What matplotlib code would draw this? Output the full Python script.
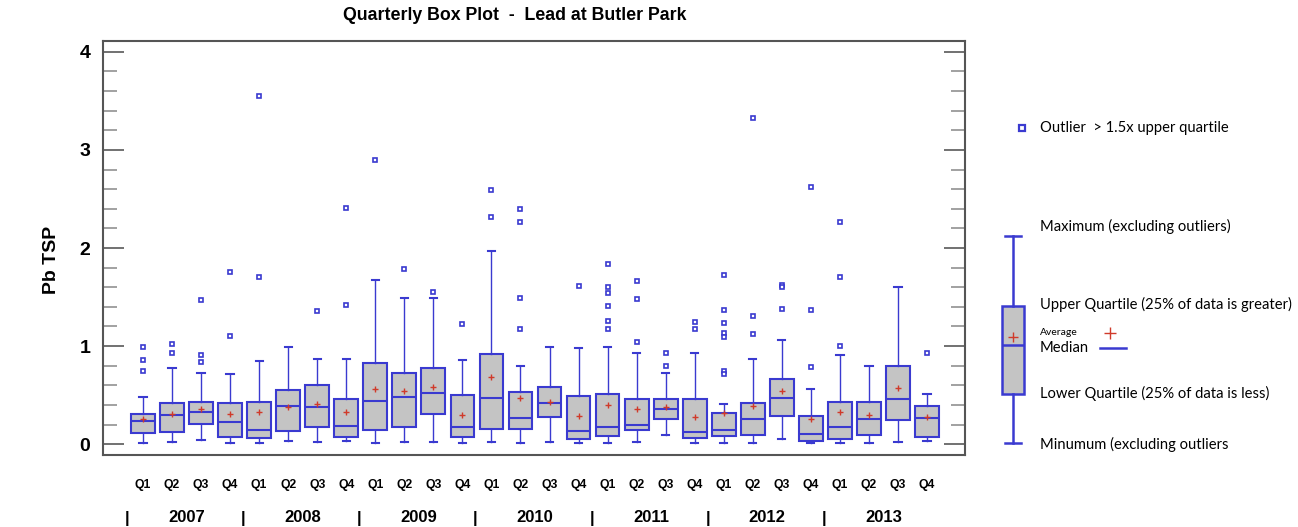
import numpy as np
import matplotlib.pyplot as plt
from matplotlib.transforms import blended_transform_factory

years = ['2007', '2008', '2009', '2010', '2011', '2012', '2013']
quarters = ['Q1', 'Q2', 'Q3', 'Q4']

# one value per quarter, 2007 Q1 ... 2013 Q4
whis_lo = [0.01, 0.02, 0.04, 0.01, 0.01, 0.03, 0.02, 0.03, 0.01, 0.02, 0.02, 0.01, 0.02, 0.01,
           0.02, 0.01, 0.01, 0.02, 0.09, 0.01, 0.01, 0.01, 0.05, 0.01, 0.01, 0.01, 0.02, 0.03]
q1 = [0.11, 0.12, 0.21, 0.07, 0.06, 0.13, 0.18, 0.07, 0.14, 0.18, 0.31, 0.07, 0.15, 0.15,
      0.28, 0.05, 0.08, 0.14, 0.26, 0.06, 0.08, 0.09, 0.29, 0.03, 0.05, 0.09, 0.25, 0.07]
med = [0.24, 0.30, 0.33, 0.23, 0.14, 0.39, 0.38, 0.19, 0.44, 0.48, 0.52, 0.18, 0.47, 0.27,
       0.42, 0.13, 0.18, 0.20, 0.36, 0.12, 0.14, 0.26, 0.47, 0.10, 0.18, 0.26, 0.46, 0.27]
q3 = [0.31, 0.42, 0.43, 0.42, 0.43, 0.55, 0.60, 0.46, 0.83, 0.73, 0.78, 0.50, 0.92, 0.53,
      0.58, 0.49, 0.51, 0.46, 0.46, 0.46, 0.32, 0.42, 0.66, 0.29, 0.43, 0.43, 0.80, 0.39]
whis_hi = [0.48, 0.78, 0.73, 0.72, 0.85, 0.99, 0.87, 0.87, 1.67, 1.49, 1.49, 0.86, 1.97, 0.80,
           0.99, 0.98, 0.99, 0.93, 0.73, 0.93, 0.41, 0.87, 1.06, 0.56, 0.91, 0.80, 1.60, 0.51]
means = [0.26, 0.31, 0.36, 0.31, 0.33, 0.38, 0.41, 0.33, 0.56, 0.54, 0.58, 0.30, 0.68, 0.47,
         0.43, 0.29, 0.40, 0.36, 0.38, 0.28, 0.32, 0.39, 0.54, 0.26, 0.33, 0.30, 0.57, 0.28]
outliers = [
    [0.99, 0.86, 0.75], [1.02, 0.93], [1.47, 0.91, 0.84], [1.76, 1.10],
    [3.55, 1.70], [], [1.36], [2.41, 1.42],
    [2.90], [1.79], [1.55], [1.23],
    [2.59, 2.32], [2.40, 2.26, 1.49, 1.17], [], [1.61],
    [1.84, 1.60, 1.54, 1.41, 1.26, 1.17], [1.66, 1.48, 1.04], [0.93, 0.80], [1.25, 1.17],
    [1.72, 1.37, 1.24, 1.13, 1.09, 0.75, 0.72], [3.33, 1.31, 1.12], [1.62, 1.60, 1.38], [2.62, 1.37, 0.79],
    [2.26, 1.70, 1.00], [], [], [0.93],
]

blue = '#3a3ad0'
grey = '#c4c4c4'
red = '#d03a2a'

fig = plt.figure(figsize=(12.98, 5.27), dpi=100)
ax = fig.add_axes([103 / 1298, 1 - 455 / 527, 862 / 1298, 414 / 527])

stats = []
for i in range(len(med)):
    stats.append(dict(whislo=whis_lo[i], q1=q1[i], med=med[i], q3=q3[i],
                      whishi=whis_hi[i], mean=means[i], fliers=outliers[i]))
pos = np.arange(1, len(stats) + 1)

ax.bxp(stats, positions=pos, widths=0.82, capwidths=0.25, showmeans=True,
       patch_artist=True,
       boxprops=dict(facecolor=grey, edgecolor=blue, linewidth=1.5),
       medianprops=dict(color=blue, linewidth=1.5),
       whiskerprops=dict(color=blue, linewidth=1.0),
       capprops=dict(color=blue, linewidth=1.5),
       flierprops=dict(marker='s', markersize=3.5, markerfacecolor='white',
                       markeredgecolor=blue, markeredgewidth=1.2),
       meanprops=dict(marker='+', markersize=5, markeredgecolor=red, markeredgewidth=1))

ax.set_xlim(1 - 40 / 29.04, len(stats) + 38 / 29.04)
ax.set_ylim(-0.11, 4.11)

for s in ax.spines.values():
    s.set_color('#555555')
    s.set_linewidth(1.5)

arial = ['Liberation Sans', 'DejaVu Sans']

ax.set_yticks([0, 1, 2, 3, 4])
ax.set_yticks(np.arange(0.2, 4.0, 0.2), minor=True)
ax.tick_params(axis='y', which='major', direction='in', length=15, width=1.3,
               color='#666666', left=True, right=True, labelsize=14, pad=9)
ax.tick_params(axis='y', which='minor', direction='in', length=10, width=1.1,
               color='#888888', left=True, right=True)
for lab in ax.get_yticklabels():
    lab.set_fontweight('bold')
    lab.set_family(arial)

ax.set_xticks(pos)
ax.set_xticklabels(quarters * len(years), fontsize=8.8, fontweight='bold', family=arial)
ax.tick_params(axis='x', length=0, pad=17)

trans = blended_transform_factory(ax.transData, fig.transFigure)
for k, y in enumerate(years):
    xc = pos[4 * k:4 * k + 4].mean()
    ax.text(xc, 1 - 518 / 527, y, transform=trans, ha='center', va='center',
            fontsize=12, fontweight='bold', family=arial)
    ax.text(pos[4 * k] - 0.55, 1 - 518 / 527, '|', transform=trans, ha='center',
            va='center', fontsize=12, fontweight='bold', family=arial)

ax.set_ylabel('Pb TSP', fontsize=14, fontweight='bold', family=arial)
ax.yaxis.set_label_coords(-0.05, 0.47)
fig.text(515 / 1298, 1 - 15 / 527, 'Quarterly Box Plot  -  Lead at Butler Park',
         ha='center', va='center', fontsize=12.8, fontweight='bold', family=arial)

# explanatory key on the right, in pixel coordinates of its own axes
lg = fig.add_axes([990 / 1298, 1 - 470 / 527, 308 / 1298, 370 / 527])
lg.set_xlim(0, 308)
lg.set_ylim(470, 100)
lg.axis('off')
key = dict(whislo=443, q1=394, med=345, q3=306, whishi=236, mean=337, fliers=[])
lg.bxp([key], positions=[23], widths=22, capwidths=16, showmeans=True, patch_artist=True,
       boxprops=dict(facecolor=grey, edgecolor=blue, linewidth=1.8),
       medianprops=dict(color=blue, linewidth=1.8),
       whiskerprops=dict(color=blue, linewidth=1.8),
       capprops=dict(color=blue, linewidth=1.8),
       meanprops=dict(marker='+', markersize=7, markeredgecolor=red, markeredgewidth=1))
lg.plot([32], [128], marker='s', markersize=5, markerfacecolor='white',
        markeredgecolor=blue, markeredgewidth=1.6)
lg.plot([120], [333], marker='+', markersize=9, markeredgecolor=red, markeredgewidth=1)
lg.plot([110, 136], [348, 348], color=blue, linewidth=1.8)

kfont = ['Lato', 'DejaVu Sans']
ks = 10.6
lg.text(50, 128, 'Outlier  > 1.5x upper quartile', va='center', fontsize=ks, family=kfont)
lg.text(50, 226, 'Maximum (excluding outliers)', va='center', fontsize=ks, family=kfont)
lg.text(50, 304, 'Upper Quartile (25% of data is greater)', va='center', fontsize=ks, family=kfont)
lg.text(50, 333, 'Average', va='center', fontsize=7.5, family=kfont)
lg.text(50, 348, 'Median', va='center', fontsize=ks, family=kfont)
lg.text(50, 393, 'Lower Quartile (25% of data is less)', va='center', fontsize=ks, family=kfont)
lg.text(50, 444, 'Minumum (excluding outliers', va='center', fontsize=ks, family=kfont)

fig.savefig('out.png', dpi=100)
